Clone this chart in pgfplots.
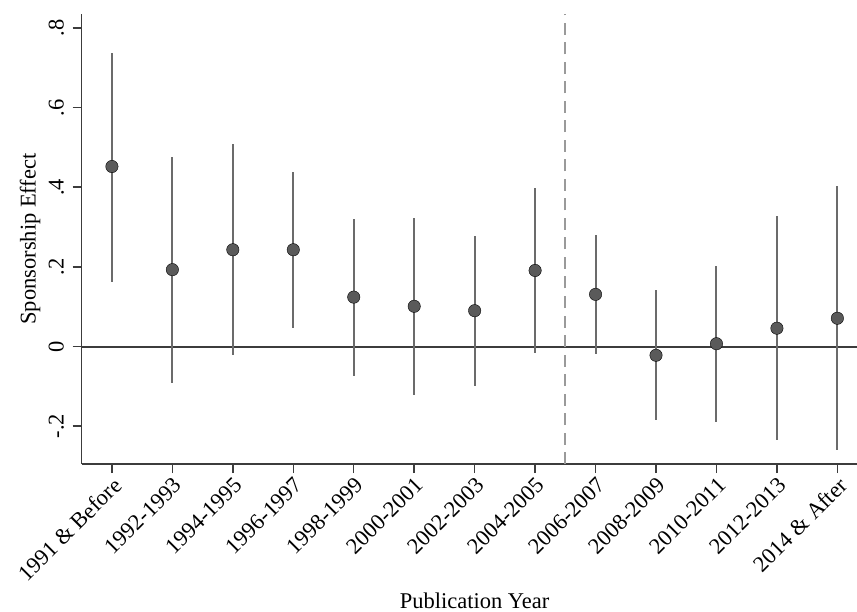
\documentclass[border=0pt]{standalone}
\usepackage{fontspec}
\setmainfont{Liberation Serif}
\usepackage{pgfplots}
\usepackage{pgfplotstable}
\pgfplotsset{compat=1.18}
\definecolor{mk}{HTML}{5A5A5A}
\definecolor{ci}{HTML}{6B6B6B}
\definecolor{axc}{HTML}{3C3C3C}
\definecolor{dsh}{HTML}{9A9A9A}
\newcommand{\fs}{\fontsize{22.5bp}{27bp}\selectfont}
\pgfplotstableread{
x b lo hi
0 0.452 0.163 0.738
1 0.193 -0.092 0.477
2 0.243 -0.022 0.508
3 0.243 0.046 0.439
4 0.124 -0.073 0.321
5 0.101 -0.121 0.322
6 0.090 -0.100 0.278
7 0.191 -0.017 0.398
8 0.131 -0.019 0.280
9 -0.022 -0.184 0.141
10 0.007 -0.190 0.202
11 0.046 -0.235 0.328
12 0.071 -0.261 0.402
}\est
\begin{document}
\begin{tikzpicture}
\begin{axis}[
  name=ax,
  scale only axis, width=785.9bp, height=450bp,
  xmin=-0.5, xmax=12.5, ymin=-0.295, ymax=0.835,
  axis x line*=bottom, axis y line*=left,
  axis line style={axc, line width=1.5bp},
  tick style={axc, line width=1.5bp}, tick align=outside, major tick length=9bp,
  xtick={0,1,2,3,4,5,6,7,8,9,10,11,12},
  xticklabels={1991 \& Before,1992-1993,1994-1995,1996-1997,1998-1999,2000-2001,2002-2003,2004-2005,2006-2007,2008-2009,2010-2011,2012-2013,2014 \& After},
  ytick={-0.2,0,0.2,0.4,0.6,0.8},
  yticklabels={-.2,0,.2,.4,.6,.8},
  tick label style={font=\fs},
  xticklabel style={font=\fs, rotate=45, anchor=north east, inner sep=2bp},
  yticklabel style={font=\fs, rotate=90, anchor=base},
  yticklabel shift=9bp,
  xlabel={Publication Year}, ylabel={Sponsorship Effect},
  xlabel style={font=\fs, at={(axis description cs:0.5,-0.32)}, anchor=base},
  ylabel style={font=\fs, at={(axis description cs:-0.0585,0.5)}, anchor=base, rotate=0},
  clip=false,
]
\addplot[axc, line width=2bp] coordinates {(-0.5,0) (12.5,0)};
\addplot[dsh, line width=2bp, dash pattern=on 12bp off 7.5bp] coordinates {(7.5,-0.295) (7.5,0.835)};
\addplot[draw=none, mark=none, error bars/.cd, y dir=both, y explicit, error mark=none,
  error bar style={ci, line width=2bp}]
  table[x=x, y=b, y error plus expr=\thisrow{hi}-\thisrow{b}, y error minus expr=\thisrow{b}-\thisrow{lo}] {\est};
\addplot[only marks, mark=*, mark size=6.2bp, mark options={fill=mk, draw=none}] table[x=x, y=b] {\est};
\end{axis}
\pgfresetboundingbox
\path ([xshift=-81.7bp,yshift=-148bp]ax.south west) rectangle ([xshift=775.3bp,yshift=464bp]ax.south west);
\end{tikzpicture}
\end{document}
